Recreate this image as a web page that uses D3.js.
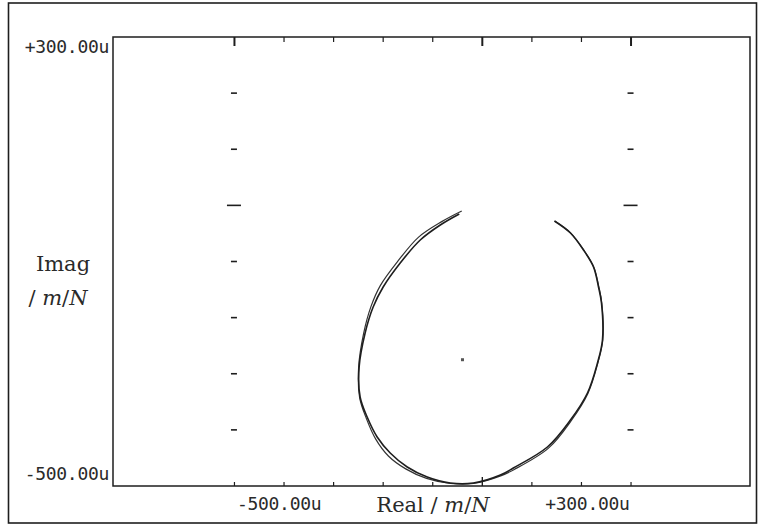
<!DOCTYPE html>
<html>
<head>
<meta charset="utf-8">
<script src="https://cdn.jsdelivr.net/npm/d3@7"></script>
<style>
  html, body { margin: 0; padding: 0; background: #fff; }
  svg { display: block; }
</style>
</head>
<body>
<svg id="chart" width="759" height="529"></svg>
<script>
// ---- data (units: micro m/N) ----
const xTickValues = [-500, -400, -300, -200, -100, 0, 100, 200, 300];
const yTickValues = [200, 100, 0, -100, -200, -300, -400];
const xLabelValues = [-500, 300];
const xTickLabels = ["-500.00u", "+300.00u"];
const yLabelValues = [300, -500];
const yTickLabels = ["+300.00u", "-500.00u"];
const gridColumns = [-500, 300];

// measured FRF (real, imag)
const measuredReal = [-45.5, -83.8, -124.2, -164.6, -199.0, -219.2, -235.4, -247.5, -245.5, -231.3, -211.1, -184.8, -150.5, -110.1, -63.6, -17.2, 37.4, 63.6, 132.3, 178.8, 213.1, 233.3, 243.4, 241.4, 235.4, 225.3, 205.1, 178.8, 146.5];
const measuredImag = [-15.4, -35.0, -61.7, -102.7, -145.4, -181.1, -227.4, -288.0, -341.4, -377.1, -412.7, -441.2, -466.1, -484.0, -494.7, -494.7, -480.4, -467.9, -430.5, -382.4, -334.3, -280.8, -239.9, -173.9, -145.4, -109.8, -79.5, -49.2, -27.8];
// fitted FRF (real, imag)
const fittedReal = [-40.5, -80.0, -127.5, -169.0, -204.5, -223.5, -238.5, -248.5, -246.5, -233.0, -214.0, -188.5, -153.5, -111.5, -63.0, -17.0, 38.0, 65.5, 134.5, 180.0, 214.0, 234.0, 244.0, 242.0, 236.0, 226.0, 206.0, 179.0, 147.0];
const fittedImag = [-10.0, -28.5, -56.5, -99.0, -142.5, -180.0, -228.5, -288.5, -342.5, -379.5, -416.5, -446.5, -469.5, -486.5, -495.5, -495.5, -482.0, -470.5, -432.5, -384.0, -335.0, -281.0, -240.0, -174.0, -145.0, -110.0, -80.0, -49.0, -28.0];
const centerPoint = [-39, -275];

// ---- layout ----
const svg = d3.select("#chart");
const frame = { left: 113, right: 750, top: 37, bottom: 486 };
const x = d3.scaleLinear().domain([-744, 541]).range([frame.left, frame.right]);
const y = d3.scaleLinear().domain([-500, 300]).range([frame.bottom, frame.top]);
const ink = "#1e1e1e";
const monoFont = "'DejaVu Sans Mono', monospace";
const serifFont = "'DejaVu Serif', 'Liberation Serif', serif";

// outer border
svg.append("rect").attr("x", 8.5).attr("y", 3).attr("width", 748).attr("height", 520)
  .attr("fill", "none").attr("stroke", ink).attr("stroke-width", 1.6);

// plot frame
svg.append("rect")
  .attr("x", frame.left).attr("y", frame.top)
  .attr("width", frame.right - frame.left).attr("height", frame.bottom - frame.top)
  .attr("fill", "none").attr("stroke", ink).attr("stroke-width", 1.5);

// x ticks on top and bottom (inside)
const major = v => v === -500 || v === 0 || v === 300;
const topAxis = d3.axisTop(x).tickValues(xTickValues).tickFormat("").tickSizeOuter(0).tickSizeInner(0);
const gTop = svg.append("g").attr("transform", `translate(0,${frame.top})`).call(topAxis);
gTop.select(".domain").remove();
gTop.selectAll(".tick line")
  .attr("y2", d => major(d) ? 9 : 5)
  .attr("stroke", ink).attr("stroke-width", d => major(d) ? 2 : 1.2);

const botAxis = d3.axisBottom(x).tickValues(xTickValues).tickFormat("").tickSizeOuter(0).tickSizeInner(0);
const gBot = svg.append("g").attr("transform", `translate(0,${frame.bottom})`).call(botAxis);
gBot.select(".domain").remove();
gBot.selectAll(".tick line")
  .attr("y2", d => d === 0 ? -9 : -4)
  .attr("stroke", ink).attr("stroke-width", d => d === 0 ? 1.4 : 1.2);

// y grid marks at x = -500 and +300 columns
gridColumns.forEach(c => {
  svg.append("g").selectAll("line").data(yTickValues).join("line")
    .attr("x1", d => x(c) - (d === 0 ? 7 : 3))
    .attr("x2", d => x(c) + (d === 0 ? 7 : 3))
    .attr("y1", d => y(d)).attr("y2", d => y(d))
    .attr("stroke", ink).attr("stroke-width", 1.6);
});

// centre marker
svg.append("rect")
  .attr("x", x(centerPoint[0]) - 1.5).attr("y", y(centerPoint[1]) - 1.5)
  .attr("width", 3).attr("height", 3).attr("fill", "#555");

// curves
const line = d3.line().x(d => x(d[0])).y(d => y(d[1])).curve(d3.curveCatmullRom.alpha(0.5));
const measured = measuredReal.map((v, i) => [v, measuredImag[i]]);
const fitted = fittedReal.map((v, i) => [v, fittedImag[i]]);
svg.append("path").datum(fitted).attr("d", line)
  .attr("fill", "none").attr("stroke", "#333").attr("stroke-width", 1.2);
svg.append("path").datum(measured).attr("d", line)
  .attr("fill", "none").attr("stroke", ink).attr("stroke-width", 1.6);

// x tick labels
svg.append("g").selectAll("text").data(xLabelValues).join("text")
  .attr("x", (d, i) => i === 0 ? x(d) + 3 : x(d) - 1)
  .attr("y", 510)
  .attr("text-anchor", (d, i) => i === 0 ? "start" : "end")
  .attr("font-family", monoFont).attr("font-size", 18).attr("letter-spacing", -0.3)
  .attr("fill", "#2a2a2a")
  .text((d, i) => xTickLabels[i]);

// y tick labels
svg.append("g").selectAll("text").data(yLabelValues).join("text")
  .attr("x", 109)
  .attr("y", (d, i) => i === 0 ? y(d) + 16 : y(d) - 6)
  .attr("text-anchor", "end")
  .attr("font-family", monoFont).attr("font-size", 18).attr("letter-spacing", -0.3)
  .attr("fill", "#2a2a2a")
  .text((d, i) => yTickLabels[i]);

// x axis title
const xt = svg.append("text").attr("x", 433).attr("y", 512).attr("text-anchor", "middle")
  .attr("font-family", serifFont).attr("font-size", 21).attr("fill", "#2a2a2a");
xt.append("tspan").text("Real\u00a0/\u00a0");
xt.append("tspan").attr("font-style", "italic").text("m");
xt.append("tspan").text("/");
xt.append("tspan").attr("font-style", "italic").text("N");

// y axis title
svg.append("text").attr("x", 63).attr("y", 271).attr("text-anchor", "middle")
  .attr("font-family", serifFont).attr("font-size", 21).attr("fill", "#2a2a2a").text("Imag");
const yt = svg.append("text").attr("x", 58).attr("y", 305).attr("text-anchor", "middle")
  .attr("font-family", serifFont).attr("font-size", 21).attr("fill", "#2a2a2a");
yt.append("tspan").text("/\u00a0");
yt.append("tspan").attr("font-style", "italic").text("m");
yt.append("tspan").text("/");
yt.append("tspan").attr("font-style", "italic").text("N");
</script>
</body>
</html>
